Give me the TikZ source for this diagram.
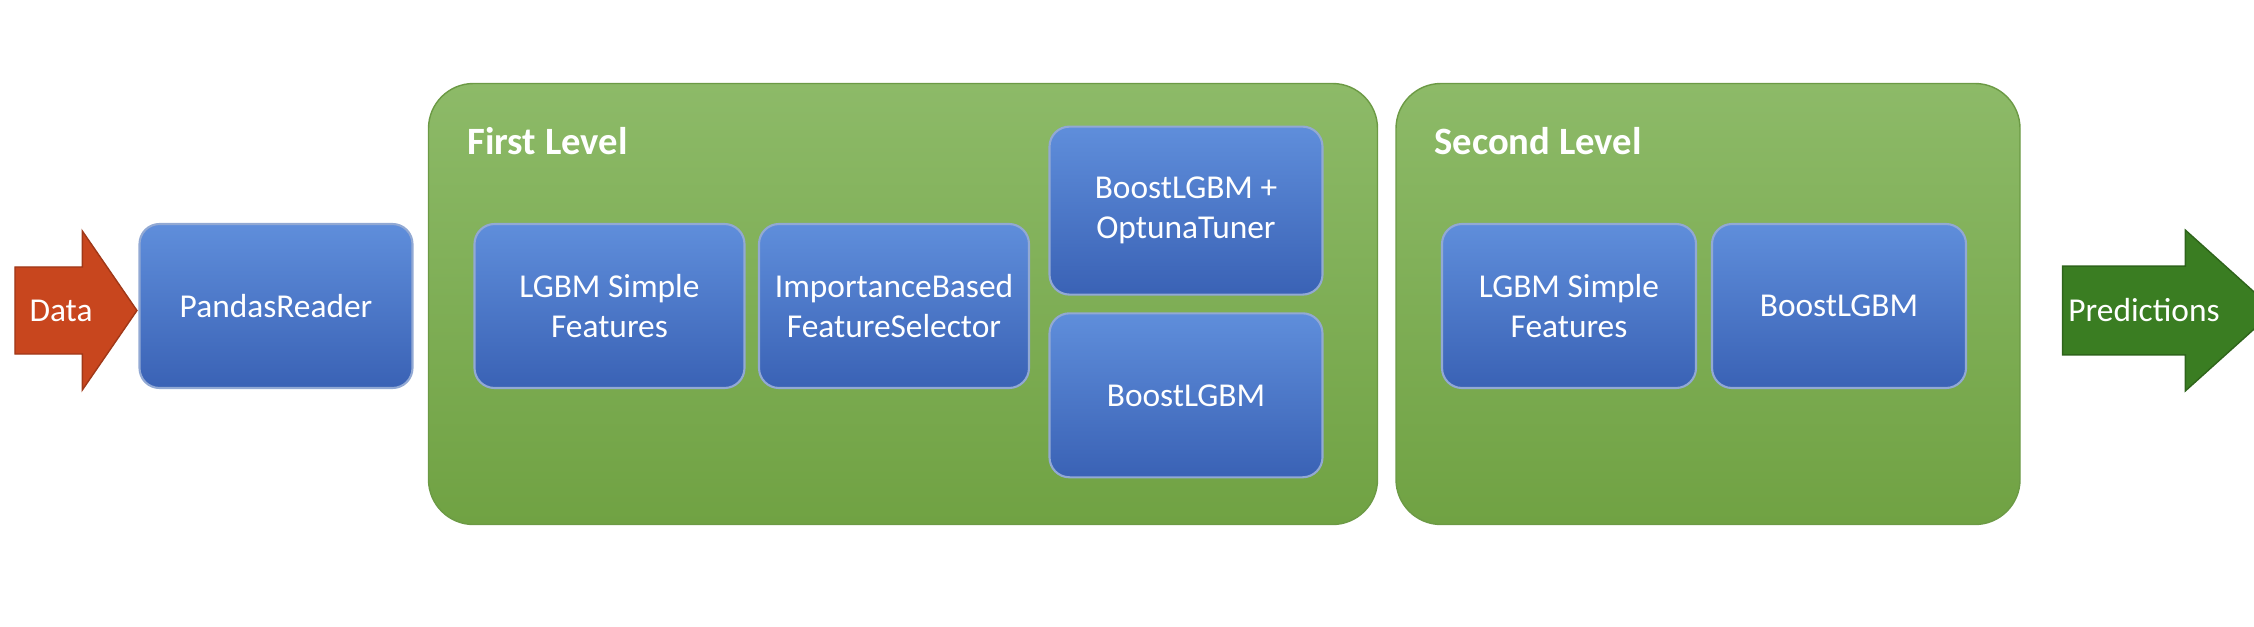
\documentclass[tikz,border=0pt]{standalone}
\usepackage{fontspec}
\setmainfont{Carlito}
\usetikzlibrary{shapes.arrows}
\definecolor{boxtop}{HTML}{5F8EDB}
\definecolor{boxbot}{HTML}{3A62B5}
\definecolor{boxline}{HTML}{4A6FB8}
\definecolor{lvltop}{HTML}{8DBA68}
\definecolor{lvlbot}{HTML}{70A243}
\definecolor{lvlline}{HTML}{6C9A45}
\definecolor{datafill}{HTML}{C8461E}
\definecolor{predfill}{HTML}{3A7D22}
\begin{document}
\begin{tikzpicture}[
    level/.style={rectangle, rounded corners=0.45cm, draw=lvlline, top color=lvltop, bottom color=lvlbot},
    block/.style={rectangle, rounded corners=0.2cm, draw=boxline!60!white, line width=0.6pt,
      top color=boxtop, bottom color=boxbot, text=white, align=center,
      font=\fontsize{9.5}{11.5}\selectfont, minimum height=1.64cm},
    title/.style={anchor=west, text=white, font=\bfseries\fontsize{11}{13}\selectfont},
    flow/.style={single arrow, single arrow head extend=0.36cm, minimum height=#1,
      inner ysep=0.32cm, inner xsep=0.05cm, text=white, font=\fontsize{9.5}{11.5}\selectfont,
      shape border rotate=0}
]
\useasboundingbox (0,0) rectangle (22.54,-6.26);

% Levels
\node[level, minimum width=9.49cm, minimum height=4.41cm] (first) at (9.03,-3.04) {};
\node[level, minimum width=6.24cm, minimum height=4.41cm] (second) at (17.08,-3.04) {};
\node[title] (firstlabel) at (4.55,-1.41) {First Level};
\node[title] (secondlabel) at (14.22,-1.41) {Second Level};

% Input and output
\node[flow=1.22cm, single arrow tip angle=111, fill=datafill, draw=datafill!80!black] (data) at (0.61,-3.105) {Data};
\node[flow=2.12cm, single arrow tip angle=84, fill=predfill, draw=predfill!80!black] (pred) at (21.44,-3.105) {Predictions};

% Blocks
\node[block, minimum width=2.73cm] (reader) at (2.76,-3.06) {PandasReader};
\node[block, minimum width=2.70cm] (lgbm1) at (6.095,-3.06) {LGBM Simple\\Features};
\node[block, minimum width=2.70cm] (selector) at (8.94,-3.06) {ImportanceBased\\FeatureSelector};
\node[block, minimum width=2.73cm, minimum height=1.68cm] (tuned) at (11.86,-2.106) {BoostLGBM +\\OptunaTuner};
\node[block, minimum width=2.73cm] (boost1) at (11.86,-3.953) {BoostLGBM};
\node[block, minimum width=2.54cm] (lgbm2) at (15.69,-3.06) {LGBM Simple\\Features};
\node[block, minimum width=2.54cm] (boost2) at (18.39,-3.06) {BoostLGBM};

\end{tikzpicture}
\end{document}
